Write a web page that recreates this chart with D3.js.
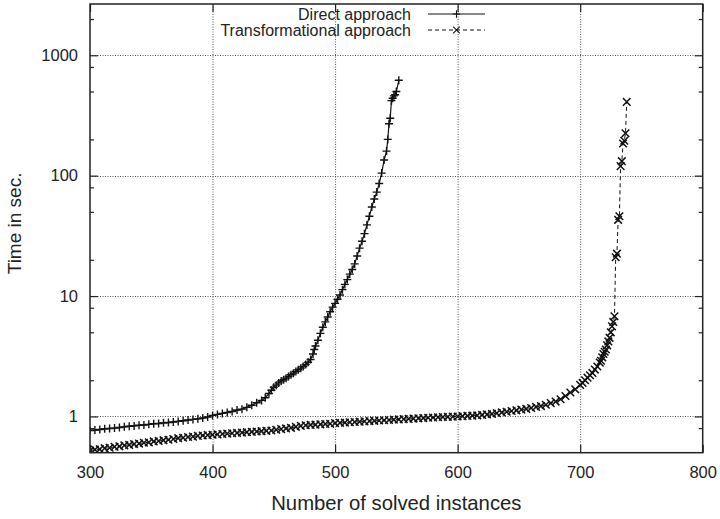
<!DOCTYPE html>
<html>
<head>
<meta charset="utf-8">
<script src="https://cdn.jsdelivr.net/npm/d3@7"></script>
<style>
  body { margin: 0; background: #fff; }
  svg { display: block; }
  text { font-family: "Liberation Sans", Arial, sans-serif; fill: #222; }
</style>
</head>
<body>
<div id="chart"></div>
<script>
// values (instance count, time in sec.)
const directN = [300,304,308,312,316,320,324,328,332,336,340,344,348,352,356,360,364,368,372,376,380,384,388,392,396,400,404,408,412,416,420,424,428,432,436,440,443,446,448,450,452,454,456,458,460,462,464,466,468,470,472,474,476,478,480,482,483,484,486,488,490,492,494,496,498,500,502,504,506,508,510,512,514,516,518,520,522,524,526,528,530,532,534,536,538,540,542,543,544,545,546,547,548,549,550,552];
const directT = [0.765,0.77,0.78,0.79,0.795,0.8,0.81,0.82,0.83,0.835,0.845,0.85,0.86,0.87,0.875,0.885,0.89,0.9,0.91,0.92,0.935,0.945,0.955,0.97,0.99,1.02,1.04,1.06,1.08,1.1,1.13,1.15,1.19,1.24,1.3,1.36,1.43,1.55,1.65,1.75,1.82,1.9,1.97,2.02,2.08,2.15,2.22,2.29,2.36,2.44,2.52,2.6,2.7,2.82,2.97,3.3,3.6,3.85,4.3,4.9,5.5,6.1,6.7,7.4,8.1,8.7,9.4,10.2,11.3,12.5,13.7,15.2,16.6,18.5,21.5,25,28.5,33,39,46,55,64,73,86,105,135,160,200,270,300,420,440,460,470,500,620];

const transN = [300,304,308,312,316,320,324,328,332,336,340,344,348,352,356,360,364,368,372,376,380,384,388,392,396,400,404,408,412,416,420,424,428,432,436,440,444,448,452,456,460,464,468,472,476,480,484,488,492,496,500,504,508,512,516,520,524,528,532,536,540,544,548,552,556,560,564,568,572,576,580,584,588,592,596,600,604,608,612,616,620,624,628,632,636,640,644,648,652,656,660,664,668,672,676,680,684,688,692,696,700,702,704,706,708,710,712,714,716,717,718,719,720,721,722,723,724,725,726,727,728,729,730,731,732,733,734,735,736,737,738];
const transT = [0.52,0.53,0.535,0.545,0.55,0.56,0.565,0.575,0.58,0.59,0.595,0.605,0.61,0.62,0.625,0.635,0.64,0.65,0.66,0.665,0.675,0.68,0.69,0.695,0.7,0.705,0.71,0.715,0.72,0.725,0.73,0.735,0.74,0.745,0.75,0.755,0.76,0.765,0.775,0.785,0.795,0.805,0.82,0.835,0.845,0.85,0.855,0.86,0.865,0.87,0.88,0.885,0.89,0.895,0.9,0.905,0.91,0.915,0.92,0.925,0.93,0.935,0.94,0.945,0.95,0.955,0.96,0.965,0.97,0.975,0.98,0.985,0.99,0.993,0.997,1.0,1.005,1.01,1.015,1.02,1.03,1.04,1.05,1.065,1.08,1.095,1.11,1.125,1.14,1.155,1.175,1.2,1.22,1.25,1.29,1.33,1.39,1.48,1.58,1.68,1.83,1.9,2.0,2.1,2.2,2.3,2.45,2.6,2.8,2.9,3.1,3.3,3.45,3.6,3.9,4.2,4.5,5.0,5.6,6.1,6.8,21,22.5,43,46,120,132,185,195,225,410];

const xTicks = [300,400,500,600,700,800];
const yTicks = [1,10,100,1000];
const yMinor = [0.8,2,5,8,20,50,80,200,500,800,2000];
const seriesNames = ["Direct approach", "Transformational approach"];

const W = 720, H = 519;
const margin = { top: 4, right: 17.3, bottom: 66.3, left: 90 };
const width  = W - margin.left - margin.right;
const height = H - margin.top - margin.bottom;

const svg = d3.select("#chart").append("svg")
  .attr("width", W).attr("height", H);

const g = svg.append("g")
  .attr("transform", `translate(${margin.left},${margin.top})`);

const x = d3.scaleLinear().domain([300, 800]).range([0, width]);
const y = d3.scaleLog().domain([0.5, 2666]).range([height, 0]);

// grid
const grid = g.append("g").attr("stroke", "#555").attr("stroke-width", 1)
  .attr("stroke-dasharray", "1,1.5");
grid.selectAll(".gx").data(xTicks.slice(1, -1)).join("line")
  .attr("x1", d => x(d) + 0.5).attr("x2", d => x(d) + 0.5)
  .attr("y1", 0).attr("y2", height);
grid.selectAll(".gy").data(yTicks).join("line")
  .attr("x1", 0).attr("x2", width)
  .attr("y1", d => Math.round(y(d)) + 0.5).attr("y2", d => Math.round(y(d)) + 0.5);

// axes (ticks pointing inward, gnuplot style)
function styleAxis(sel) {
  sel.select(".domain").remove();
  sel.selectAll(".tick line").attr("stroke", "#222").attr("stroke-width", 1.2);
  sel.selectAll("text").attr("font-size", "16.5px").attr("fill", "#222");
}
g.append("g").attr("transform", `translate(0,${height})`)
  .call(d3.axisBottom(x).tickValues(xTicks).tickSize(-8).tickPadding(13.5).tickFormat(d3.format("d")))
  .call(styleAxis);
g.append("g")
  .call(d3.axisTop(x).tickValues(xTicks).tickSize(-8).tickFormat(""))
  .call(styleAxis);
g.append("g")
  .call(d3.axisLeft(y).tickValues(yTicks).tickSize(-8).tickPadding(12).tickFormat(d3.format("d")))
  .call(styleAxis);
g.append("g").attr("transform", `translate(${width},0)`)
  .call(d3.axisRight(y).tickValues(yTicks).tickSize(-8).tickFormat(""))
  .call(styleAxis);
g.append("g")
  .call(d3.axisLeft(y).tickValues(yMinor).tickSize(-4).tickFormat(""))
  .call(styleAxis);
g.append("g").attr("transform", `translate(${width},0)`)
  .call(d3.axisRight(y).tickValues(yMinor).tickSize(-4).tickFormat(""))
  .call(styleAxis);

// curves
svg.append("defs").append("clipPath").attr("id", "plot")
  .append("rect").attr("width", width).attr("height", height);
const plot = g.append("g").attr("clip-path", "url(#plot)");

const line = d3.line().x(d => x(d[0])).y(d => y(d[1]));
const direct = directN.map((n, i) => [n, directT[i]]);
const trans  = transN.map((n, i) => [n, transT[i]]);

const plusPath  = s => `M${-s},0H${s}M0,${-s}V${s}`;
const crossPath = s => `M${-s},${-s}L${s},${s}M${-s},${s}L${s},${-s}`;

plot.append("path").datum(trans).attr("d", line)
  .attr("fill", "none").attr("stroke", "#111").attr("stroke-width", 1)
  .attr("stroke-dasharray", "4,3");
plot.selectAll(".tm").data(trans).join("path")
  .attr("transform", d => `translate(${x(d[0])},${y(d[1])})`)
  .attr("d", crossPath(3.8))
  .attr("stroke", "#111").attr("stroke-width", 1.5).attr("fill", "none");

plot.append("path").datum(direct).attr("d", line)
  .attr("fill", "none").attr("stroke", "#111").attr("stroke-width", 1.2);
plot.selectAll(".dm").data(direct).join("path")
  .attr("transform", d => `translate(${x(d[0])},${y(d[1])})`)
  .attr("d", plusPath(4))
  .attr("stroke", "#111").attr("stroke-width", 1.4).attr("fill", "none");

// frame
g.append("rect").attr("width", width).attr("height", height)
  .attr("fill", "none").attr("stroke", "#222").attr("stroke-width", 1.5);

// legend
const legend = svg.append("g");
seriesNames.forEach((name, i) => {
  const ly = 14 + i * 16;
  legend.append("text").attr("x", 411).attr("y", ly + 5.5)
    .attr("text-anchor", "end").attr("font-size", "16px").text(name);
  legend.append("line").attr("x1", 428).attr("x2", 485).attr("y1", ly).attr("y2", ly)
    .attr("stroke", "#111").attr("stroke-width", 1)
    .attr("stroke-dasharray", i === 0 ? null : "4,3");
  legend.append("path").attr("transform", `translate(456.5,${ly})`)
    .attr("d", i === 0 ? plusPath(3.8) : crossPath(3.3))
    .attr("stroke", "#111").attr("stroke-width", 1.1).attr("fill", "none");
});

// axis titles
svg.append("text").attr("x", margin.left + width / 2).attr("y", 510)
  .attr("text-anchor", "middle").attr("font-size", "20.3px")
  .text("Number of solved instances");
svg.append("text").attr("transform", `translate(20.5,${223.4}) rotate(-90)`)
  .attr("text-anchor", "middle").attr("font-size", "19px")
  .text("Time in sec.");
</script>
</body>
</html>
